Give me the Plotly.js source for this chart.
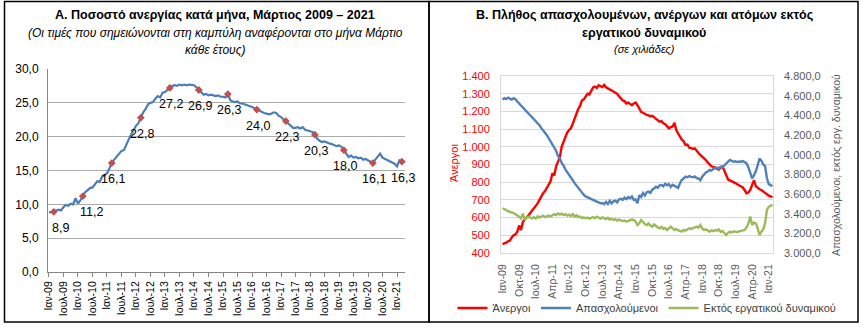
<!DOCTYPE html>
<html><head><meta charset="utf-8">
<script src="https://cdn.plot.ly/plotly-3.0.1.min.js"></script>
<style>html,body{margin:0;padding:0;background:#fff}#chart{width:863px;height:327px}</style>
</head><body><div id="chart"></div>
<script>
// ---- data ----
const monthNames = ["Ιαν","Φεβ","Μαρ","Απρ","Μαϊ","Ιουν","Ιουλ","Αυγ","Σεπ","Οκτ","Νοε","Δεκ"];
const firstYear = 2009;
// Unemployment rate (%), Jan 2009 – Mar 2021
const unemploymentRate = [
  8.8, 8.8, 8.9, 9.1, 9.2, 9.1, 9.6, 9.9, 9.8, 10.1, 10.0, 10.9,
  10.1, 10.6, 11.2, 11.8, 12.1, 12.4, 12.5, 12.9, 13.4, 13.3, 14.1, 14.3,
  14.6, 15.3, 16.1, 16.6, 17.0, 17.4, 17.9, 18.0, 18.9, 19.6, 20.3, 21.0,
  21.6, 22.0, 22.8, 23.6, 24.1, 24.8, 25.0, 25.1, 25.6, 26.0, 25.8, 26.5,
  26.6, 26.9, 27.2, 27.5, 27.6, 27.5, 27.7, 27.6, 27.7, 27.6, 27.7, 27.6,
  27.6, 27.3, 26.9, 26.6, 26.2, 26.3, 26.1, 26.2, 26.1, 26.0, 26.1, 25.9,
  25.9, 25.8, 26.3, 25.4, 25.2, 25.1, 25.2, 24.9, 24.9, 24.8, 24.7, 24.5,
  24.4, 24.2, 24.0, 23.8, 23.7, 23.5, 23.4, 23.3, 23.4, 23.6, 23.5, 23.1,
  22.9, 22.6, 22.3, 21.9, 21.6, 21.3, 21.3, 21.4, 21.2, 21.4, 21.0, 20.9,
  20.9, 20.7, 20.3, 19.7, 19.4, 19.2, 19.3, 19.1, 19.0, 18.9, 18.8, 18.6,
  18.7, 18.5, 18.0, 17.4, 17.0, 17.2, 16.9, 17.0, 16.8, 16.9, 16.6, 16.7,
  16.5, 16.3, 16.1, 16.6, 17.0, 17.5, 16.9, 16.7, 16.5, 16.4, 16.2, 16.0,
  15.6, 16.5, 16.3
];
// Thousands of persons, Jan 2009 – Mar 2021
const unemployed = [
  450, 452, 458, 466, 470, 488, 500, 505, 520, 555, 530, 575,
  585, 600, 612, 625, 640, 655, 668, 680, 700, 720, 738, 750,
  770, 790, 805, 850, 838, 890, 915, 940, 1000, 1030, 1055, 1080,
  1095, 1105, 1130, 1160, 1195, 1215, 1232, 1262, 1268, 1285, 1300, 1296,
  1318, 1335, 1340, 1332, 1348, 1345, 1338, 1350, 1336, 1330, 1325, 1318,
  1312, 1305, 1300, 1285, 1275, 1262, 1258, 1245, 1250, 1240, 1235, 1245,
  1250, 1235, 1212, 1198, 1192, 1185, 1180, 1178, 1172, 1175, 1168, 1160,
  1152, 1142, 1145, 1133, 1128, 1118, 1104, 1112, 1115, 1135, 1095, 1075,
  1055, 1040, 1030, 1010, 1012, 995, 993, 988, 991, 975, 965, 954,
  945, 932, 925, 912, 900, 890, 886, 880, 876, 872, 882, 888,
  865, 838, 815, 810, 806, 800, 795, 788, 780, 776, 770, 755,
  738, 742, 756, 785, 812, 778, 766, 760, 756, 748, 738, 728,
  724, 720, 715
];
const employed = [
  4560, 4575, 4565, 4580, 4570, 4560, 4575, 4565, 4540, 4520, 4500, 4480,
  4462, 4445, 4425, 4405, 4385, 4362, 4338, 4318, 4300, 4270, 4240, 4222,
  4198, 4165, 4135, 4110, 4068, 4040, 3985, 3965, 3915, 3890, 3850, 3825,
  3795, 3768, 3740, 3710, 3685, 3660, 3630, 3610, 3590, 3575, 3565, 3556,
  3545, 3540, 3530, 3522, 3515, 3505, 3508, 3496, 3520, 3498, 3530, 3505,
  3525, 3532, 3515, 3545, 3552, 3540, 3562, 3548, 3568, 3556, 3575, 3540,
  3545, 3505, 3588, 3570, 3610, 3585, 3618, 3624, 3612, 3645, 3655, 3675,
  3665, 3688, 3692, 3678, 3705, 3688, 3700, 3672, 3694, 3685, 3675, 3662,
  3710, 3745, 3758, 3776, 3770, 3782, 3775, 3770, 3778, 3762, 3758, 3740,
  3775, 3800, 3818, 3828, 3846, 3838, 3856, 3862, 3868, 3858, 3878, 3872,
  3895, 3912, 3930, 3946, 3938, 3928, 3932, 3925, 3930, 3928, 3934, 3918,
  3912, 3870, 3810, 3760, 3790, 3830, 3890, 3960, 3940, 3900, 3885, 3760,
  3700, 3690, 3680
];
const inactive = [
  3455, 3450, 3438, 3425, 3420, 3410, 3405, 3395, 3385, 3368, 3352, 3400,
  3336, 3360, 3370, 3358, 3353, 3365, 3350, 3372, 3360, 3370, 3378, 3365,
  3370, 3380, 3372, 3386, 3395, 3386, 3403, 3390, 3400, 3386, 3395, 3380,
  3390, 3375, 3395, 3370, 3385, 3365, 3370, 3355, 3362, 3353, 3360, 3350,
  3355, 3365, 3353, 3370, 3360, 3350, 3362, 3353, 3345, 3358, 3340, 3348,
  3336, 3345, 3330, 3340, 3336, 3325, 3330, 3319, 3328, 3335, 3340, 3336,
  3320, 3285, 3302, 3336, 3310, 3295, 3285, 3300, 3280, 3268, 3290, 3270,
  3260, 3251, 3265, 3245, 3255, 3234, 3250, 3268, 3250, 3234, 3245, 3230,
  3225, 3217, 3235, 3228, 3240, 3251, 3245, 3255, 3260, 3268, 3258, 3285,
  3250, 3234, 3240, 3225, 3217, 3230, 3222, 3234, 3228, 3240, 3215, 3225,
  3200, 3183, 3205, 3217, 3210, 3218, 3217, 3212, 3220, 3225, 3230, 3234,
  3260, 3302, 3370, 3285, 3310, 3302, 3250, 3183, 3217, 3240, 3302, 3437,
  3470, 3480, 3490
];
const seriesNames = ["Άνεργοι", "Απασχολούμενοι", "Εκτός εργατικού δυναμικού"];
const titleA = "<b>Α. Ποσοστό ανεργίας κατά μήνα, Μάρτιος 2009 – 2021</b>";
const subtitleA1 = "<i>(Οι τιμές που σημειώνονται στη καμπύλη αναφέρονται στο μήνα Μάρτιο</i>";
const subtitleA2 = "<i>κάθε έτους)</i>";
const titleB1 = "<b>Β. Πλήθος απασχολουμένων, ανέργων και ατόμων εκτός</b>";
const titleB2 = "<b>εργατικού δυναμικού</b>";
const subtitleB = "<i>(σε χιλιάδες)</i>";
const leftAxisTitleB = "Άνεργοι";
const rightAxisTitleB = "Απασχολούμενοι, εκτός εργ. δυναμικού";

// ---- derived ----
const months = unemploymentRate.map((_, i) =>
  monthNames[i % 12] + "-" + String((firstYear + Math.floor(i / 12)) % 100).padStart(2, "0"));
const marchIdx = months.map((m, i) => i).filter(i => i % 12 === 2);
const marchX = marchIdx.map(i => months[i]);
const marchY = marchIdx.map(i => unemploymentRate[i]);
const marchText = marchY.map(v => v.toFixed(1).replace(".", ","));
const ticksA = months.filter((m, i) => i % 6 === 0);
const ticksB = months.filter((m, i) => i % 9 === 0);

const FONT = "Liberation Sans, Arial, sans-serif";
const W = 863, H = 327;
const px = x => x / W, py = y => 1 - y / H;

const traces = [
  {x: months, y: unemploymentRate, xaxis: "x", yaxis: "y", mode: "lines",
   line: {color: "#4A7EBB", width: 2.2}, showlegend: false, hoverinfo: "skip"},
  {x: marchX, y: marchY, xaxis: "x", yaxis: "y", mode: "markers", cliponaxis: false,
   marker: {color: "#C0504D", size: 6, symbol: "diamond"},
   showlegend: false, hoverinfo: "skip"},
  {x: months, y: unemployed, xaxis: "x2", yaxis: "y2", mode: "lines", name: seriesNames[0],
   line: {color: "#FF0000", width: 2.4}},
  {x: months, y: employed, xaxis: "x2", yaxis: "y3", mode: "lines", name: seriesNames[1],
   line: {color: "#4F81BD", width: 2.4}},
  {x: months, y: inactive, xaxis: "x2", yaxis: "y3", mode: "lines", name: seriesNames[2],
   line: {color: "#9BBB59", width: 2.4}}
];

function ann(text, x, y, size, color, extra) {
  return Object.assign({text: text, x: px(x), y: py(y), xref: "paper", yref: "paper",
    xanchor: "center", yanchor: "middle", showarrow: false,
    font: {size: size, color: color}}, extra || {});
}

// value labels under the March markers
const valueLabels = marchX.map((x, k) => ({
  text: marchText[k], x: x, y: marchY[k], xref: "x", yref: "y",
  showarrow: false, xanchor: "center", yanchor: "middle",
  yshift: -16, xshift: k === 0 ? 7 : (k === 1 ? 9 : 1),
  font: {size: 12.5, color: "#000"}
}));

const layout = {
  width: W, height: H,
  margin: {l: 0, r: 0, t: 0, b: 0},
  paper_bgcolor: "#fff", plot_bgcolor: "rgba(0,0,0,0)",
  separators: ",.",
  font: {family: FONT, size: 11, color: "#000"},
  xaxis: {domain: [px(48), px(405)], type: "category", range: [-0.4, 147.3],
    tickvals: ticksA, ticktext: ticksA, tickangle: -90,
    tickfont: {size: 10.5, color: "#000"}, showgrid: false, showline: true,
    linecolor: "#868686", linewidth: 1, ticks: "outside", ticklen: 4, tickcolor: "#868686",
    anchor: "y", zeroline: false},
  yaxis: {domain: [py(272), py(69)], range: [0, 30], dtick: 5, tickformat: ".1f",
    tickfont: {size: 12, color: "#000"}, showgrid: true, gridcolor: "#ABABAB", gridwidth: 1.3,
    showline: true, linecolor: "#868686", linewidth: 1, ticks: "", ticklabelstandoff: 6,
    zeroline: false, anchor: "x"},
  xaxis2: {domain: [px(501), px(773)], type: "category", range: [-0.8, 146.3],
    tickvals: ticksB, ticktext: ticksB, tickangle: -90,
    tickfont: {size: 10.5, color: "#595959"}, showgrid: false, showline: true, mirror: true,
    linecolor: "#D9D9D9", linewidth: 1, ticks: "", ticklabelstandoff: 6, anchor: "y2"},
  yaxis2: {domain: [py(253), py(76)], range: [400, 1400], dtick: 100, tickformat: ",d",
    tickfont: {size: 11, color: "#FF0000"}, showgrid: true, gridcolor: "#D9D9D9", gridwidth: 1,
    showline: true, mirror: true, linecolor: "#D9D9D9", ticks: "", ticklabelstandoff: 8,
    zeroline: false, anchor: "x2"},
  yaxis3: {domain: [py(253), py(76)], range: [3000, 4800], dtick: 200, tickformat: ",.1f",
    tickfont: {size: 11, color: "#595959"}, showgrid: false, overlaying: "y2", side: "right",
    anchor: "x2", ticks: "", ticklabelstandoff: 10, zeroline: false, showline: false},
  legend: {orientation: "h", x: px(647), xanchor: "center", y: py(308), yanchor: "middle",
    font: {size: 11, color: "#404040"}, itemwidth: 30, tracegroupgap: 0,
    bgcolor: "rgba(0,0,0,0)"},
  shapes: [
    {type: "rect", xref: "paper", yref: "paper", x0: px(4.5), x1: px(429), y0: py(322), y1: py(1.5),
     line: {color: "#000", width: 1.5}},
    {type: "rect", xref: "paper", yref: "paper", x0: px(429), x1: px(858), y0: py(322), y1: py(1.5),
     line: {color: "#000", width: 1.5}}
  ],
  annotations: [
    ann(titleA, 215, 15, 12.5, "#000"),
    ann(subtitleA1, 215, 33, 12, "#000"),
    ann(subtitleA2, 215, 50, 12, "#000"),
    ann(titleB1, 644, 15, 12.5, "#000"),
    ann(titleB2, 644, 33, 12.5, "#000"),
    ann(subtitleB, 644, 49, 11, "#000"),
    ann(leftAxisTitleB, 454, 163, 11, "#FF0000", {textangle: -90}),
    ann(rightAxisTitleB, 836, 165, 10.5, "#595959", {textangle: -90})
  ].concat(valueLabels)
};

Plotly.newPlot("chart", traces, layout, {staticPlot: true, displayModeBar: false});
</script>
</body></html>
